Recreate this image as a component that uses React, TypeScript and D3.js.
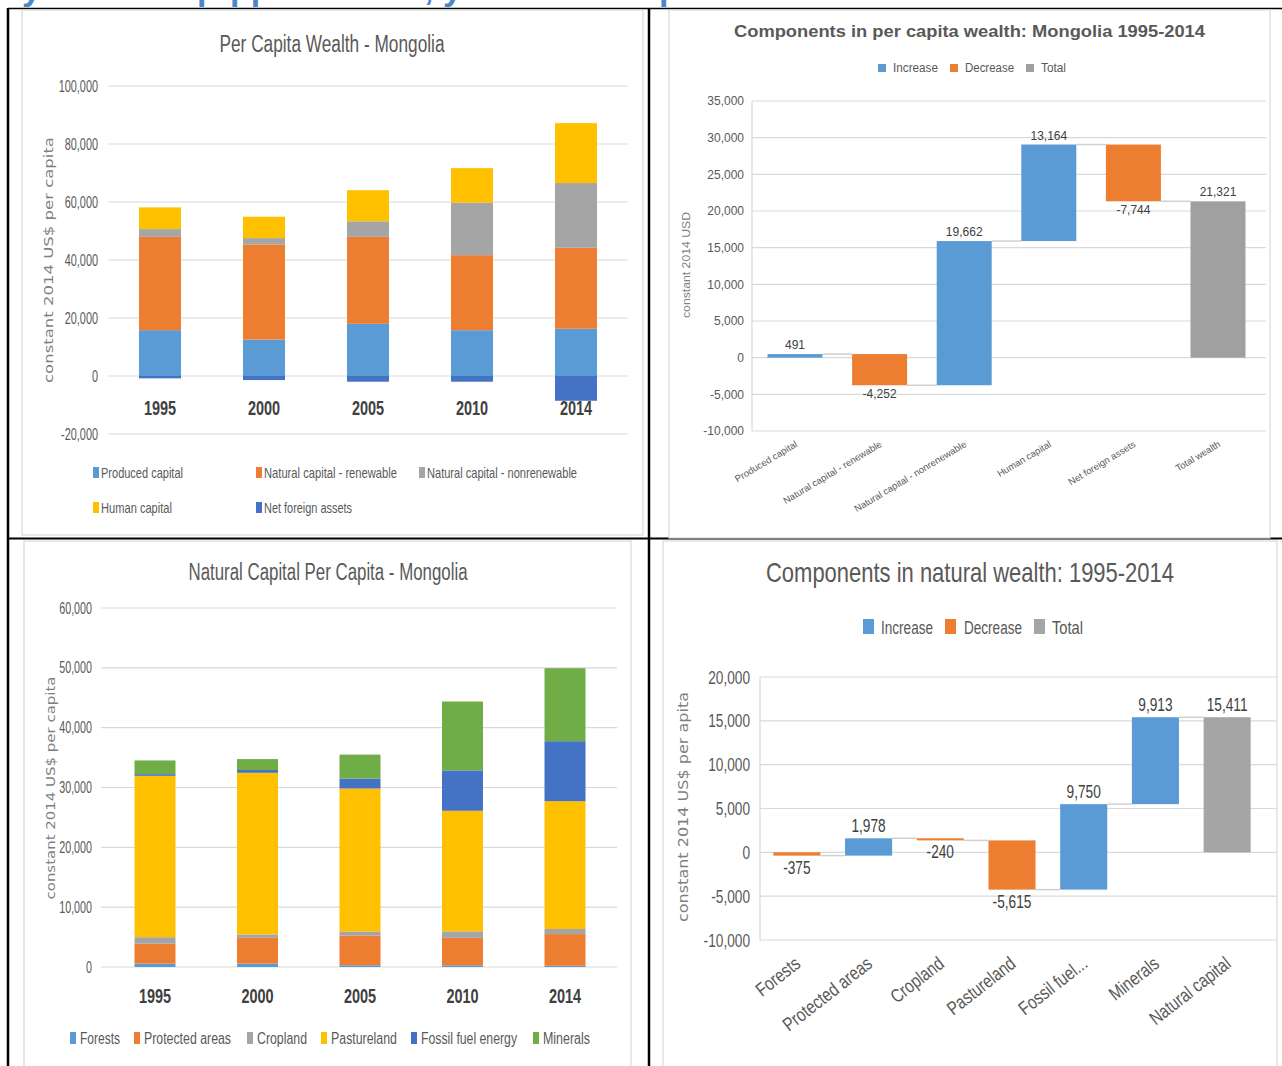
import React from 'react';
import * as d3 from 'd3';

// ---------- DATA ----------
const years = ['1995', '2000', '2005', '2010', '2014'];
const wealthSeriesNames = ['Produced capital', 'Natural capital - renewable', 'Natural capital - nonrenewable', 'Human capital', 'Net foreign assets'];
const producedCapital = [15800, 12570, 18010, 15790, 16290];
const naturalRenewable = [32200, 32800, 29990, 25870, 27950];
const naturalNonrenewable = [2650, 2180, 5330, 18110, 22300];
const humanCapital = [7500, 7370, 10740, 11910, 20660];
const netForeignAssets = [-800, -1400, -1970, -1970, -8540];
const wealthTicks = [-20000, 0, 20000, 40000, 60000, 80000, 100000];

const wfCategories = ['Produced capital', 'Natural capital - renewable', 'Natural capital - nonrenewable', 'Human capital', 'Net foreign assets', 'Total wealth'];
const wfValues = [491, -4252, 19662, 13164, -7744, 21321];
const wfTicks = [-10000, -5000, 0, 5000, 10000, 15000, 20000, 25000, 30000, 35000];

const natSeriesNames = ['Forests', 'Protected areas', 'Cropland', 'Pastureland', 'Fossil fuel energy', 'Minerals'];
const forests = [570, 570, 290, 290, 200];
const protectedAreas = [3320, 4300, 4980, 4580, 5300];
const cropland = [1090, 570, 680, 1080, 850];
const pastureland = [26970, 27020, 23880, 20160, 21360];
const fossilFuel = [280, 460, 1660, 6750, 10030];
const minerals = [2290, 1830, 4010, 11510, 12200];
const natTicks = [0, 10000, 20000, 30000, 40000, 50000, 60000];

const nwCategories = ['Forests', 'Protected areas', 'Cropland', 'Pastureland', 'Fossil fuel...', 'Minerals', 'Natural capital'];
const nwValues = [-375, 1978, -240, -5615, 9750, 9913, 15411];
const nwTicks = [-10000, -5000, 0, 5000, 10000, 15000, 20000];

const legendWf = ['Increase', 'Decrease', 'Total'];

// ---------- STYLE ----------
const SANS = "'Liberation Sans',Arial,sans-serif";
const WIDE = "'DejaVu Sans',Verdana,sans-serif";
const TXT = '#595959';
const DARK = '#404040';
const GRID = '#d9d9d9';
const BLUE = '#5B9BD5';
const ORANGE = '#ED7D31';
const GRAY = '#A5A5A5';
const YELLOW = '#FFC000';
const DBLUE = '#4472C4';
const GREEN = '#70AD47';
const fmt = (v: number) => d3.format(',')(v).replace('\u2212', '-');

// text squeezed horizontally (to imitate a narrow face)
function NText(props: any) {
  const { x, y, sx = 1, rot = 0, children, ...rest } = props;
  return (
    <text transform={`translate(${x},${y}) rotate(${rot}) scale(${sx},1)`} fontFamily={SANS} {...rest}>{children}</text>
  );
}

type Series = { name: string; values: number[]; color: string };

function StackedChart(p: any) {
  const series: Series[] = p.series;
  const x = d3.scaleBand<string>().domain(p.categories).range(p.xRange).paddingInner(p.pad).paddingOuter(p.pad / 2);
  const y = d3.scaleLinear().domain(p.yDomain).range(p.yRange);
  const table = p.categories.map((c: string, i: number) => {
    const o: any = { cat: c };
    series.forEach((s) => (o[s.name] = s.values[i]));
    return o;
  });
  const stacked = d3.stack<any>().keys(series.map((s) => s.name)).offset(d3.stackOffsetDiverging)(table);
  return (
    <g>
      <rect x={p.box[0]} y={p.box[1]} width={p.box[2]} height={p.box[3]} fill="#fff" stroke={GRID} strokeWidth={1.2} />
      <text x={p.titleX} y={p.titleY} textAnchor="middle" fontFamily={SANS} fontSize={p.titleSize} fill={TXT} textLength={p.titleLen} lengthAdjust="spacingAndGlyphs">{p.title}</text>
      {p.ticks.map((t: number) => (
        <g key={t}>
          <line x1={p.gridX[0]} x2={p.gridX[1]} y1={y(t)} y2={y(t)} stroke={GRID} strokeWidth={1.2} />
          <NText x={p.tickX} y={y(t)} sx={p.tickSx} dy="0.35em" textAnchor="end" fontSize={p.tickSize} fill={TXT}>{fmt(t)}</NText>
        </g>
      ))}
      <text transform={`translate(${p.yTitleX},${p.yTitleY}) rotate(-90)`} textAnchor="middle" fontFamily={WIDE} fontSize={p.yTitleSize} fill="#7f7f7f" textLength={p.yTitleLen} lengthAdjust="spacingAndGlyphs">{p.yTitle}</text>
      {stacked.map((layer, li) => (
        <g key={layer.key} fill={series[li].color}>
          {layer.map((d: any, i: number) => (
            <rect key={i} x={x(p.categories[i])} width={x.bandwidth()} y={y(Math.max(d[0], d[1]))} height={Math.abs(y(d[0]) - y(d[1]))} />
          ))}
        </g>
      ))}
      {p.categories.map((c: string) => (
        <NText key={c} x={(x(c) as number) + x.bandwidth() / 2} y={p.xLabelY} sx={p.xLabelSx} textAnchor="middle" fontWeight="bold" fontSize={p.xLabelSize} fill={DARK}>{c}</NText>
      ))}
      {series.map((s, i) => {
        const L = p.legend[i];
        return (
          <g key={s.name}>
            <rect x={L[0]} y={L[1] - p.legendSq[1]} width={p.legendSq[0]} height={p.legendSq[1]} fill={s.color} />
            <text x={L[0] + p.legendGap} y={L[1]} fontFamily={SANS} fontSize={p.legendSize} fill={TXT} textLength={L[2]} lengthAdjust="spacingAndGlyphs">{s.name}</text>
          </g>
        );
      })}
    </g>
  );
}

function Waterfall(p: any) {
  const cats: string[] = p.categories;
  const vals: number[] = p.values;
  const x = d3.scaleBand<string>().domain(cats).range(p.xRange).paddingInner(p.pad).paddingOuter(p.pad / 2);
  const y = d3.scaleLinear().domain(p.yDomain).range(p.yRange);
  let cum = 0;
  const bars = vals.map((v, i) => {
    const total = i === vals.length - 1;
    const start = total ? 0 : cum;
    const end = total ? v : cum + v;
    if (!total) cum = end;
    return { cat: cats[i], v, start, end, total, kind: total ? 'Total' : v >= 0 ? 'Increase' : 'Decrease' };
  });
  const color: any = { Increase: BLUE, Decrease: ORANGE, Total: p.totalColor || GRAY };
  const bw = x.bandwidth();
  return (
    <g>
      <rect x={p.box[0]} y={p.box[1]} width={p.box[2]} height={p.box[3]} fill="#fff" stroke={GRID} strokeWidth={1.2} />
      <text x={p.titleX} y={p.titleY} textAnchor="middle" fontFamily={SANS} fontWeight={p.titleWeight} fontSize={p.titleSize} fill={TXT} textLength={p.titleLen} lengthAdjust="spacingAndGlyphs">{p.title}</text>
      {legendWf.map((k, i) => {
        const L = p.legend[i];
        return (
          <g key={k}>
            <rect x={L[0]} y={p.legendY - p.legendSq[1]} width={p.legendSq[0]} height={p.legendSq[1]} fill={color[k]} />
            <text x={L[1]} y={p.legendY} fontFamily={SANS} fontSize={p.legendSize} fill={TXT} textLength={L[2]} lengthAdjust="spacingAndGlyphs">{k}</text>
          </g>
        );
      })}
      {p.ticks.map((t: number) => (
        <g key={t}>
          <line x1={p.gridX[0]} x2={p.gridX[1]} y1={y(t)} y2={y(t)} stroke={GRID} strokeWidth={1.2} />
          <NText x={p.tickX} y={y(t)} sx={p.sx} dy="0.35em" textAnchor="end" fontSize={p.tickSize} fill={TXT}>{fmt(t)}</NText>
        </g>
      ))}
      <line x1={p.gridX[0]} x2={p.gridX[0]} y1={y(p.yDomain[0])} y2={y(p.yDomain[1])} stroke={GRID} strokeWidth={1.2} />
      <text transform={`translate(${p.yTitleX},${p.yTitleY}) rotate(-90)`} textAnchor="middle" fontFamily={p.yTitleFont} fontSize={p.yTitleSize} fill="#7f7f7f" textLength={p.yTitleLen} lengthAdjust="spacingAndGlyphs">{p.yTitle}</text>
      {bars.slice(0, -1).map((b, i) => (
        <line key={'c' + i} x1={(x(b.cat) as number) + bw} x2={x(bars[i + 1].cat) as number} y1={y(b.end)} y2={y(b.end)} stroke="#d0d0d0" strokeWidth={1.5} />
      ))}
      {bars.map((b) => (
        <rect key={b.cat} x={x(b.cat)} width={bw} y={y(Math.max(b.start, b.end))} height={Math.max(1.5, Math.abs(y(b.start) - y(b.end)))} fill={color[b.kind]} />
      ))}
      {bars.map((b) => {
        const cx = (x(b.cat) as number) + bw / 2;
        const above = b.kind !== 'Decrease';
        const yy = above ? y(Math.max(b.start, b.end)) - p.labelAbove : y(Math.min(b.start, b.end)) + p.labelBelow;
        return (
          <NText key={'l' + b.cat} x={cx} y={yy} sx={p.sx} textAnchor="middle" fontSize={p.labelSize} fill={DARK}>{fmt(b.v)}</NText>
        );
      })}
      {cats.map((c) => (
        <NText key={'x' + c} x={(x(c) as number) + bw / 2 + p.xLabelDx} y={p.xLabelY} rot={p.xLabelAngle} sx={p.xLabelSx} textAnchor="end" fontSize={p.xLabelSize} fill={TXT}>{c}</NText>
      ))}
    </g>
  );
}

export default function App() {
  const wealthSeries: Series[] = [
    { name: wealthSeriesNames[0], values: producedCapital, color: BLUE },
    { name: wealthSeriesNames[1], values: naturalRenewable, color: ORANGE },
    { name: wealthSeriesNames[2], values: naturalNonrenewable, color: GRAY },
    { name: wealthSeriesNames[3], values: humanCapital, color: YELLOW },
    { name: wealthSeriesNames[4], values: netForeignAssets, color: DBLUE },
  ];
  const natSeries: Series[] = [
    { name: natSeriesNames[0], values: forests, color: BLUE },
    { name: natSeriesNames[1], values: protectedAreas, color: ORANGE },
    { name: natSeriesNames[2], values: cropland, color: GRAY },
    { name: natSeriesNames[3], values: pastureland, color: YELLOW },
    { name: natSeriesNames[4], values: fossilFuel, color: DBLUE },
    { name: natSeriesNames[5], values: minerals, color: GREEN },
  ];
  return (
    <svg width={1282} height={1066} style={{ position: 'absolute', left: 0, top: 0, background: '#fff' }}>
      <defs>
        <clipPath id="headClip"><rect x={0} y={0} width={1282} height={8} /></clipPath>
      </defs>
      <g clipPath="url(#headClip)" fill="#4A86C8" fontFamily={SANS} fontWeight="bold" fontSize={34}>
        <text y={0}>
          <tspan x={22}>y</tspan>
          <tspan x={197}>p</tspan>
          <tspan x={230}>pp</tspan>
          <tspan x={424}>, y</tspan>
          <tspan x={659}>p</tspan>
        </text>
      </g>
      {/* table borders */}
      <line x1={8} x2={1282} y1={8.5} y2={8.5} stroke="#000" strokeWidth={1.5} />
      <line x1={8} x2={8} y1={8} y2={1066} stroke="#000" strokeWidth={2.5} />
      <line x1={649} x2={649} y1={8} y2={1066} stroke="#000" strokeWidth={2.5} />
      <line x1={8} x2={1282} y1={538.5} y2={538.5} stroke="#000" strokeWidth={2} />

      <StackedChart
        box={[22, 10, 621, 525]}
        categories={years} series={wealthSeries}
        xRange={[108, 628]} pad={0.596}
        yDomain={[-20000, 100000]} yRange={[434, 86]}
        ticks={wealthTicks} gridX={[108, 628]} tickX={98} tickSize={16} tickSx={0.68}
        title="Per Capita Wealth - Mongolia" titleX={332} titleY={52} titleSize={23} titleLen={225}
        yTitle="constant 2014 US$ per capita" yTitleX={52.5} yTitleY={260} yTitleSize={13} yTitleLen={246}
        xLabelY={415} xLabelSize={21} xLabelSx={0.69}
        legendSq={[6, 11]} legendGap={8} legendSize={15}
        legend={[[93, 478, 82], [256, 478, 133], [419, 478, 150], [93, 513, 71], [256, 513, 88]]}
      />

      <Waterfall
        box={[669, 10, 601, 528]}
        categories={wfCategories} values={wfValues}
        xRange={[752.7, 1260.3]} pad={0.35}
        yDomain={[-10000, 35000]} yRange={[431, 101]}
        ticks={wfTicks} gridX={[752, 1266]} tickX={744} tickSize={12} sx={1}
        title="Components in per capita wealth: Mongolia 1995-2014" titleX={969.5} titleY={37} titleSize={17} titleLen={471} titleWeight="bold"
        legendY={72} legendSq={[8, 8]} legendSize={12}
        legend={[[878, 893, 45], [950, 965, 49], [1026, 1041, 25]]}
        yTitle="constant 2014 USD" yTitleX={690} yTitleY={265} yTitleSize={11} yTitleLen={106} yTitleFont={SANS}
        labelAbove={5} labelBelow={13} labelSize={12}
        xLabelDx={3} xLabelY={446} xLabelAngle={-31} xLabelSize={9.5} xLabelSx={1}
        totalColor="#A0A0A0"
      />

      <StackedChart
        box={[24, 541, 607, 530]}
        categories={years} series={natSeries}
        xRange={[103.75, 616.25]} pad={0.6}
        yDomain={[0, 60000]} yRange={[967, 608]}
        ticks={natTicks} gridX={[101, 617]} tickX={92} tickSize={16} tickSx={0.67}
        title="Natural Capital Per Capita - Mongolia" titleX={328} titleY={580} titleSize={23} titleLen={279}
        yTitle="constant 2014 US$ per capita" yTitleX={54.5} yTitleY={788} yTitleSize={13} yTitleLen={223}
        xLabelY={1003} xLabelSize={21} xLabelSx={0.69}
        legendSq={[6, 12]} legendGap={10} legendSize={16}
        legend={[[70, 1044, 40], [134, 1044, 87], [247, 1044, 50], [321, 1044, 66], [411, 1044, 96], [533, 1044, 47]]}
      />

      <Waterfall
        box={[663, 541, 614, 530]}
        categories={nwCategories} values={nwValues}
        xRange={[761, 1263]} pad={0.344}
        yDomain={[-10000, 20000]} yRange={[940, 677]}
        ticks={nwTicks} gridX={[760, 1277]} tickX={750} tickSize={19} sx={0.72}
        title="Components in natural wealth: 1995-2014" titleX={970} titleY={582} titleSize={28} titleLen={408} titleWeight="normal"
        legendY={634} legendSq={[11, 15]} legendSize={18}
        legend={[[863, 881, 52], [945, 964, 58], [1034, 1052, 31]]}
        yTitle="constant 2014 US$ per apita" yTitleX={688} yTitleY={807} yTitleSize={14} yTitleLen={230} yTitleFont={WIDE}
        labelAbove={6} labelBelow={18} labelSize={19}
        xLabelDx={5} xLabelY={966} xLabelAngle={-38} xLabelSize={19} xLabelSx={0.8}
      />
    </svg>
  );
}
